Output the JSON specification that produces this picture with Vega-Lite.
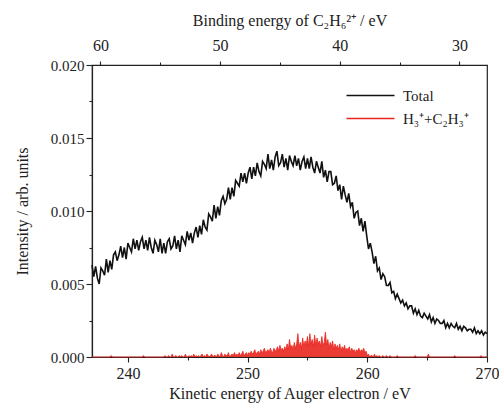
{
  "$schema": "https://vega.github.io/schema/vega-lite/v6.json",
  "width": 395,
  "height": 292,
  "autosize": {"type": "none"},
  "padding": {"left": 92, "top": 65, "right": 12, "bottom": 48},
  "background": "white",
  "config": {
    "font": "Liberation Serif",
    "view": {"stroke": "#222", "strokeWidth": 1.2},
    "axis": {
      "grid": false,
      "domainColor": "#222",
      "domainWidth": 1.2,
      "tickColor": "#222",
      "tickWidth": 1.1,
      "labelColor": "#222",
      "titleColor": "#222",
      "labelFont": "Liberation Serif",
      "titleFont": "Liberation Serif",
      "labelFontSize": 16,
      "titleFontSize": 16,
      "titleFontWeight": "normal"
    },
    "legend": {
      "labelFont": "Liberation Serif",
      "labelFontSize": 15,
      "labelColor": "#222"
    }
  },
  "datasets": {
    "total": [
      {"ke": 237, "i": 0.0063}, {"ke": 237.15, "i": 0.0055}, {"ke": 237.3, "i": 0.0062}, {"ke": 237.45, "i": 0.0054}, {"ke": 237.6, "i": 0.005}, {"ke": 237.75, "i": 0.0061}, {"ke": 237.9, "i": 0.0059}, {"ke": 238.05, "i": 0.0056}, {"ke": 238.2, "i": 0.0067}, {"ke": 238.35, "i": 0.0058},
      {"ke": 238.5, "i": 0.0066}, {"ke": 238.65, "i": 0.006}, {"ke": 238.8, "i": 0.007}, {"ke": 238.95, "i": 0.0072}, {"ke": 239.1, "i": 0.0066}, {"ke": 239.25, "i": 0.007}, {"ke": 239.4, "i": 0.0076}, {"ke": 239.55, "i": 0.0068}, {"ke": 239.7, "i": 0.0075}, {"ke": 239.85, "i": 0.0067},
      {"ke": 240, "i": 0.0078}, {"ke": 240.15, "i": 0.0075}, {"ke": 240.3, "i": 0.0072}, {"ke": 240.45, "i": 0.0081}, {"ke": 240.6, "i": 0.0074}, {"ke": 240.75, "i": 0.008}, {"ke": 240.9, "i": 0.0073}, {"ke": 241.05, "i": 0.0079}, {"ke": 241.2, "i": 0.0082}, {"ke": 241.35, "i": 0.0074},
      {"ke": 241.5, "i": 0.008}, {"ke": 241.65, "i": 0.0073}, {"ke": 241.8, "i": 0.0082}, {"ke": 241.95, "i": 0.0075}, {"ke": 242.1, "i": 0.0071}, {"ke": 242.25, "i": 0.008}, {"ke": 242.4, "i": 0.0077}, {"ke": 242.55, "i": 0.0072}, {"ke": 242.7, "i": 0.0081}, {"ke": 242.85, "i": 0.0071},
      {"ke": 243, "i": 0.0078}, {"ke": 243.15, "i": 0.0071}, {"ke": 243.3, "i": 0.0079}, {"ke": 243.45, "i": 0.0081}, {"ke": 243.6, "i": 0.0074}, {"ke": 243.75, "i": 0.0076}, {"ke": 243.9, "i": 0.0083}, {"ke": 244.05, "i": 0.0074}, {"ke": 244.2, "i": 0.008}, {"ke": 244.35, "i": 0.0072},
      {"ke": 244.5, "i": 0.0083}, {"ke": 244.65, "i": 0.008}, {"ke": 244.8, "i": 0.0077}, {"ke": 244.95, "i": 0.0086}, {"ke": 245.1, "i": 0.008}, {"ke": 245.25, "i": 0.0085}, {"ke": 245.4, "i": 0.0078}, {"ke": 245.55, "i": 0.0085}, {"ke": 245.7, "i": 0.0089}, {"ke": 245.85, "i": 0.0082},
      {"ke": 246, "i": 0.009}, {"ke": 246.15, "i": 0.0084}, {"ke": 246.3, "i": 0.0094}, {"ke": 246.45, "i": 0.0089}, {"ke": 246.6, "i": 0.0087}, {"ke": 246.75, "i": 0.0098}, {"ke": 246.9, "i": 0.0096}, {"ke": 247.05, "i": 0.0093}, {"ke": 247.2, "i": 0.0104}, {"ke": 247.35, "i": 0.0095},
      {"ke": 247.5, "i": 0.0103}, {"ke": 247.65, "i": 0.0097}, {"ke": 247.8, "i": 0.0107}, {"ke": 247.95, "i": 0.011}, {"ke": 248.1, "i": 0.0105}, {"ke": 248.25, "i": 0.0108}, {"ke": 248.4, "i": 0.0116}, {"ke": 248.55, "i": 0.0108}, {"ke": 248.7, "i": 0.0116}, {"ke": 248.85, "i": 0.011},
      {"ke": 249, "i": 0.0121}, {"ke": 249.15, "i": 0.0119}, {"ke": 249.3, "i": 0.0117}, {"ke": 249.45, "i": 0.0126}, {"ke": 249.6, "i": 0.012}, {"ke": 249.75, "i": 0.0126}, {"ke": 249.9, "i": 0.0119}, {"ke": 250.05, "i": 0.0126}, {"ke": 250.2, "i": 0.013}, {"ke": 250.35, "i": 0.0122},
      {"ke": 250.5, "i": 0.013}, {"ke": 250.65, "i": 0.0124}, {"ke": 250.8, "i": 0.0133}, {"ke": 250.95, "i": 0.0127}, {"ke": 251.1, "i": 0.0124}, {"ke": 251.25, "i": 0.0134}, {"ke": 251.4, "i": 0.0132}, {"ke": 251.55, "i": 0.0129}, {"ke": 251.7, "i": 0.0139}, {"ke": 251.85, "i": 0.0129},
      {"ke": 252, "i": 0.0135}, {"ke": 252.15, "i": 0.0128}, {"ke": 252.3, "i": 0.0137}, {"ke": 252.45, "i": 0.0141}, {"ke": 252.6, "i": 0.0131}, {"ke": 252.75, "i": 0.0133}, {"ke": 252.9, "i": 0.0139}, {"ke": 253.05, "i": 0.013}, {"ke": 253.2, "i": 0.0136}, {"ke": 253.35, "i": 0.0128},
      {"ke": 253.5, "i": 0.0138}, {"ke": 253.65, "i": 0.0134}, {"ke": 253.8, "i": 0.0131}, {"ke": 253.95, "i": 0.0138}, {"ke": 254.1, "i": 0.0131}, {"ke": 254.25, "i": 0.0136}, {"ke": 254.4, "i": 0.0128}, {"ke": 254.55, "i": 0.0134}, {"ke": 254.7, "i": 0.0137}, {"ke": 254.85, "i": 0.0129},
      {"ke": 255, "i": 0.0136}, {"ke": 255.15, "i": 0.0129}, {"ke": 255.3, "i": 0.0137}, {"ke": 255.45, "i": 0.013}, {"ke": 255.6, "i": 0.0126}, {"ke": 255.75, "i": 0.0134}, {"ke": 255.9, "i": 0.013}, {"ke": 256.05, "i": 0.0126}, {"ke": 256.2, "i": 0.0134}, {"ke": 256.35, "i": 0.0123},
      {"ke": 256.5, "i": 0.0128}, {"ke": 256.65, "i": 0.012}, {"ke": 256.8, "i": 0.0127}, {"ke": 256.95, "i": 0.0127}, {"ke": 257.1, "i": 0.0118}, {"ke": 257.25, "i": 0.0119}, {"ke": 257.4, "i": 0.0124}, {"ke": 257.55, "i": 0.0114}, {"ke": 257.7, "i": 0.0118}, {"ke": 257.85, "i": 0.0108},
      {"ke": 258, "i": 0.0117}, {"ke": 258.15, "i": 0.0111}, {"ke": 258.3, "i": 0.0106}, {"ke": 258.45, "i": 0.0112}, {"ke": 258.6, "i": 0.0103}, {"ke": 258.75, "i": 0.0106}, {"ke": 258.9, "i": 0.0095}, {"ke": 259.05, "i": 0.0099}, {"ke": 259.2, "i": 0.01}, {"ke": 259.35, "i": 0.009},
      {"ke": 259.5, "i": 0.0095}, {"ke": 259.65, "i": 0.0086}, {"ke": 259.8, "i": 0.0093}, {"ke": 259.95, "i": 0.0083}, {"ke": 260.1, "i": 0.0074}, {"ke": 260.25, "i": 0.0078}, {"ke": 260.4, "i": 0.0072}, {"ke": 260.55, "i": 0.0064}, {"ke": 260.7, "i": 0.0069}, {"ke": 260.85, "i": 0.0059},
      {"ke": 261, "i": 0.0061}, {"ke": 261.15, "i": 0.0053}, {"ke": 261.3, "i": 0.0057}, {"ke": 261.45, "i": 0.0055}, {"ke": 261.6, "i": 0.0049}, {"ke": 261.75, "i": 0.0049}, {"ke": 261.9, "i": 0.0051}, {"ke": 262.05, "i": 0.0044}, {"ke": 262.2, "i": 0.0045}, {"ke": 262.35, "i": 0.004},
      {"ke": 262.5, "i": 0.0043}, {"ke": 262.65, "i": 0.004}, {"ke": 262.8, "i": 0.0037}, {"ke": 262.95, "i": 0.0039}, {"ke": 263.1, "i": 0.0035}, {"ke": 263.25, "i": 0.0037}, {"ke": 263.4, "i": 0.0033}, {"ke": 263.55, "i": 0.0035}, {"ke": 263.7, "i": 0.0035}, {"ke": 263.85, "i": 0.003},
      {"ke": 264, "i": 0.0033}, {"ke": 264.15, "i": 0.0029}, {"ke": 264.3, "i": 0.0032}, {"ke": 264.45, "i": 0.0028}, {"ke": 264.6, "i": 0.0027}, {"ke": 264.75, "i": 0.003}, {"ke": 264.9, "i": 0.0028}, {"ke": 265.05, "i": 0.0026}, {"ke": 265.2, "i": 0.0029}, {"ke": 265.35, "i": 0.0024},
      {"ke": 265.5, "i": 0.0027}, {"ke": 265.65, "i": 0.0023}, {"ke": 265.8, "i": 0.0026}, {"ke": 265.95, "i": 0.0025}, {"ke": 266.1, "i": 0.0023}, {"ke": 266.25, "i": 0.0023}, {"ke": 266.4, "i": 0.0025}, {"ke": 266.55, "i": 0.002}, {"ke": 266.7, "i": 0.0023}, {"ke": 266.85, "i": 0.002},
      {"ke": 267, "i": 0.0023}, {"ke": 267.15, "i": 0.0021}, {"ke": 267.3, "i": 0.002}, {"ke": 267.45, "i": 0.0023}, {"ke": 267.6, "i": 0.0019}, {"ke": 267.75, "i": 0.0021}, {"ke": 267.9, "i": 0.0018}, {"ke": 268.05, "i": 0.0021}, {"ke": 268.2, "i": 0.002}, {"ke": 268.35, "i": 0.0018},
      {"ke": 268.5, "i": 0.0019}, {"ke": 268.65, "i": 0.0019}, {"ke": 268.8, "i": 0.0017}, {"ke": 268.95, "i": 0.002}, {"ke": 269.1, "i": 0.0016}, {"ke": 269.25, "i": 0.0018}, {"ke": 269.4, "i": 0.0016}, {"ke": 269.55, "i": 0.0018}, {"ke": 269.7, "i": 0.0015}, {"ke": 269.85, "i": 0.0017},
      {"ke": 270, "i": 0.0016}
    ],
    "ions": [
      {"ke": 237, "i": 0}, {"ke": 238.5, "i": 0}, {"ke": 238.6, "i": 0.0001}, {"ke": 238.7, "i": 0}, {"ke": 241.2, "i": 0}, {"ke": 241.3, "i": 0.0001}, {"ke": 241.4, "i": 0},
      {"ke": 243, "i": 0}, {"ke": 243.1, "i": 0.0001}, {"ke": 243.2, "i": 0}, {"ke": 243.3, "i": 0}, {"ke": 243.4, "i": 0.0001}, {"ke": 243.5, "i": 0}, {"ke": 243.6, "i": 0}, {"ke": 243.7, "i": 0.0002}, {"ke": 243.8, "i": 0}, {"ke": 243.9, "i": 0},
      {"ke": 244, "i": 0.0001}, {"ke": 244.1, "i": 0}, {"ke": 244.2, "i": 0}, {"ke": 244.3, "i": 0.0001}, {"ke": 244.4, "i": 0}, {"ke": 244.5, "i": 0.0001}, {"ke": 244.6, "i": 0}, {"ke": 244.7, "i": 0}, {"ke": 244.8, "i": 0.0002}, {"ke": 244.9, "i": 0},
      {"ke": 245, "i": 0}, {"ke": 245.1, "i": 0.0001}, {"ke": 245.2, "i": 0}, {"ke": 245.3, "i": 0.0001}, {"ke": 245.4, "i": 0}, {"ke": 245.5, "i": 0.0002}, {"ke": 245.6, "i": 0}, {"ke": 245.7, "i": 0.0001}, {"ke": 245.8, "i": 0}, {"ke": 245.9, "i": 0.0001},
      {"ke": 246, "i": 0}, {"ke": 246.1, "i": 0.0001}, {"ke": 246.2, "i": 0.0002}, {"ke": 246.3, "i": 0}, {"ke": 246.4, "i": 0.0001}, {"ke": 246.5, "i": 0}, {"ke": 246.6, "i": 0.0002}, {"ke": 246.7, "i": 0.0001}, {"ke": 246.8, "i": 0}, {"ke": 246.9, "i": 0.0001},
      {"ke": 247, "i": 0.0002}, {"ke": 247.1, "i": 0}, {"ke": 247.2, "i": 0.0001}, {"ke": 247.3, "i": 0.0001}, {"ke": 247.4, "i": 0}, {"ke": 247.5, "i": 0.0002}, {"ke": 247.6, "i": 0.0001}, {"ke": 247.7, "i": 0}, {"ke": 247.8, "i": 0.0003}, {"ke": 247.9, "i": 0.0001},
      {"ke": 248, "i": 0}, {"ke": 248.1, "i": 0.0002}, {"ke": 248.2, "i": 0.0001}, {"ke": 248.3, "i": 0.0001}, {"ke": 248.4, "i": 0.0003}, {"ke": 248.5, "i": 0}, {"ke": 248.6, "i": 0.0001}, {"ke": 248.7, "i": 0.0002}, {"ke": 248.8, "i": 0.0001}, {"ke": 248.9, "i": 0.0003},
      {"ke": 249, "i": 0.0001}, {"ke": 249.1, "i": 0.0002}, {"ke": 249.2, "i": 0.0001}, {"ke": 249.3, "i": 0.0003}, {"ke": 249.4, "i": 0.0001}, {"ke": 249.5, "i": 0.0002}, {"ke": 249.6, "i": 0.0004}, {"ke": 249.7, "i": 0.0001}, {"ke": 249.8, "i": 0.0002}, {"ke": 249.9, "i": 0.0003},
      {"ke": 250, "i": 0.0001}, {"ke": 250.1, "i": 0.0003}, {"ke": 250.2, "i": 0.0002}, {"ke": 250.3, "i": 0.0004}, {"ke": 250.4, "i": 0.0002}, {"ke": 250.5, "i": 0.0003}, {"ke": 250.6, "i": 0.0005}, {"ke": 250.7, "i": 0.0002}, {"ke": 250.8, "i": 0.0003}, {"ke": 250.9, "i": 0.0004},
      {"ke": 251, "i": 0.0002}, {"ke": 251.1, "i": 0.0005}, {"ke": 251.2, "i": 0.0003}, {"ke": 251.3, "i": 0.0004}, {"ke": 251.4, "i": 0.0006}, {"ke": 251.5, "i": 0.0003}, {"ke": 251.6, "i": 0.0004}, {"ke": 251.7, "i": 0.0005}, {"ke": 251.8, "i": 0.0003}, {"ke": 251.9, "i": 0.0006},
      {"ke": 252, "i": 0.0004}, {"ke": 252.1, "i": 0.0003}, {"ke": 252.2, "i": 0.0006}, {"ke": 252.3, "i": 0.0004}, {"ke": 252.4, "i": 0.0005}, {"ke": 252.5, "i": 0.0007}, {"ke": 252.6, "i": 0.0004}, {"ke": 252.7, "i": 0.0008}, {"ke": 252.8, "i": 0.0005}, {"ke": 252.9, "i": 0.0006},
      {"ke": 253, "i": 0.0004}, {"ke": 253.1, "i": 0.0007}, {"ke": 253.2, "i": 0.0005}, {"ke": 253.3, "i": 0.0009}, {"ke": 253.4, "i": 0.0005}, {"ke": 253.5, "i": 0.0012}, {"ke": 253.6, "i": 0.0006}, {"ke": 253.7, "i": 0.0008}, {"ke": 253.8, "i": 0.0005}, {"ke": 253.9, "i": 0.001},
      {"ke": 254, "i": 0.0006}, {"ke": 254.1, "i": 0.0009}, {"ke": 254.2, "i": 0.0016}, {"ke": 254.3, "i": 0.0007}, {"ke": 254.4, "i": 0.001}, {"ke": 254.5, "i": 0.0006}, {"ke": 254.6, "i": 0.0013}, {"ke": 254.7, "i": 0.0007}, {"ke": 254.8, "i": 0.0011}, {"ke": 254.9, "i": 0.0008},
      {"ke": 255, "i": 0.0014}, {"ke": 255.1, "i": 0.0007}, {"ke": 255.2, "i": 0.0016}, {"ke": 255.3, "i": 0.0009}, {"ke": 255.4, "i": 0.0012}, {"ke": 255.5, "i": 0.0007}, {"ke": 255.6, "i": 0.0015}, {"ke": 255.7, "i": 0.0008}, {"ke": 255.8, "i": 0.0013}, {"ke": 255.9, "i": 0.0009},
      {"ke": 256, "i": 0.0011}, {"ke": 256.1, "i": 0.0007}, {"ke": 256.2, "i": 0.0014}, {"ke": 256.3, "i": 0.0008}, {"ke": 256.4, "i": 0.001}, {"ke": 256.5, "i": 0.0017}, {"ke": 256.6, "i": 0.0008}, {"ke": 256.7, "i": 0.0012}, {"ke": 256.8, "i": 0.0006}, {"ke": 256.9, "i": 0.001},
      {"ke": 257, "i": 0.0007}, {"ke": 257.1, "i": 0.0011}, {"ke": 257.2, "i": 0.0005}, {"ke": 257.3, "i": 0.0009}, {"ke": 257.4, "i": 0.0006}, {"ke": 257.5, "i": 0.0008}, {"ke": 257.6, "i": 0.0005}, {"ke": 257.7, "i": 0.0009}, {"ke": 257.8, "i": 0.0004}, {"ke": 257.9, "i": 0.0007},
      {"ke": 258, "i": 0.0005}, {"ke": 258.1, "i": 0.0008}, {"ke": 258.2, "i": 0.0004}, {"ke": 258.3, "i": 0.0006}, {"ke": 258.4, "i": 0.0005}, {"ke": 258.5, "i": 0.0007}, {"ke": 258.6, "i": 0.0003}, {"ke": 258.7, "i": 0.0006}, {"ke": 258.8, "i": 0.0004}, {"ke": 258.9, "i": 0.0005},
      {"ke": 259, "i": 0.0003}, {"ke": 259.1, "i": 0.0005}, {"ke": 259.2, "i": 0.0004}, {"ke": 259.3, "i": 0.0006}, {"ke": 259.4, "i": 0.0003}, {"ke": 259.5, "i": 0.0005}, {"ke": 259.6, "i": 0.0004}, {"ke": 259.7, "i": 0.0006}, {"ke": 259.8, "i": 0.0003}, {"ke": 259.9, "i": 0.0004},
      {"ke": 260, "i": 0.0001}, {"ke": 260.1, "i": 0.0002}, {"ke": 260.2, "i": 0}, {"ke": 260.3, "i": 0.0001}, {"ke": 260.4, "i": 0.0001}, {"ke": 260.5, "i": 0}, {"ke": 260.6, "i": 0.0002}, {"ke": 260.7, "i": 0}, {"ke": 260.8, "i": 0.0001}, {"ke": 260.9, "i": 0},
      {"ke": 261, "i": 0.0001}, {"ke": 261.1, "i": 0}, {"ke": 261.2, "i": 0}, {"ke": 261.3, "i": 0.0001}, {"ke": 261.4, "i": 0}, {"ke": 261.5, "i": 0}, {"ke": 261.6, "i": 0.0001}, {"ke": 261.7, "i": 0}, {"ke": 261.8, "i": 0}, {"ke": 261.9, "i": 0.0001},
      {"ke": 262, "i": 0}, {"ke": 262.4, "i": 0}, {"ke": 262.5, "i": 0.0001}, {"ke": 262.6, "i": 0}, {"ke": 263.9, "i": 0}, {"ke": 264, "i": 0.0001}, {"ke": 264.1, "i": 0}, {"ke": 265, "i": 0}, {"ke": 265.1, "i": 0.0002}, {"ke": 265.2, "i": 0},
      {"ke": 267.2, "i": 0}, {"ke": 267.3, "i": 0.0001}, {"ke": 267.4, "i": 0}, {"ke": 269.4, "i": 0}, {"ke": 269.5, "i": 0.0001}, {"ke": 269.6, "i": 0}, {"ke": 270, "i": 0}
    ],
    "binding": [{"be": 30}, {"be": 60}]
  },
  "layer": [
    {
      "encoding": {
        "x": {
          "field": "ke",
          "type": "quantitative",
          "scale": {"domain": [237, 270], "nice": false, "zero": false},
          "axis": {
            "orient": "bottom",
            "title": "Kinetic energy of Auger electron / eV",
            "values": [240, 245, 250, 255, 260, 265, 270],
            "labelExpr": "datum.value % 10 === 0 ? datum.label : ''",
            "tickSize": {"condition": {"test": "datum.value % 10 !== 0", "value": 3}, "value": 5},
            "labelPadding": 3,
            "titlePadding": 4,
            "labelFlush": false
          }
        },
        "y": {
          "field": "i",
          "type": "quantitative",
          "scale": {"domain": [0, 0.02], "nice": false},
          "axis": {
            "title": "Intensity / arb. units",
            "titleFontSize": 16,
            "values": [0, 0.0025, 0.005, 0.0075, 0.01, 0.0125, 0.015, 0.0175, 0.02],
            "labelExpr": "abs(datum.value * 200 - round(datum.value * 200)) < 0.001 ? format(datum.value, '.3f') : ''",
            "tickSize": {"condition": {"test": "abs(datum.value * 200 - round(datum.value * 200)) > 0.001", "value": 3}, "value": 6},
            "labelPadding": 2,
            "titlePadding": 20,
            "labelFontSize": 15,
            "labelFlush": false
          }
        }
      },
      "layer": [
        {
          "data": {"name": "ions"},
          "mark": {"type": "area", "color": "#e8261f", "opacity": 0.9, "interpolate": "linear"}
        },
        {
          "data": {"name": "ions"},
          "mark": {"type": "line", "strokeWidth": 0.8},
          "encoding": {"color": {"datum": "H₃⁺+C₂H₃⁺"}}
        },
        {
          "data": {"name": "total"},
          "mark": {"type": "line", "strokeWidth": 1.6},
          "encoding": {
            "color": {
              "datum": "Total",
              "scale": {"domain": ["Total", "H₃⁺+C₂H₃⁺"], "range": ["#111111", "#e8261f"]},
              "legend": {
                "title": null,
                "orient": "none",
                "legendX": 271,
                "legendY": 23,
                "symbolType": "M-4,0H4",
                "symbolSize": 144,
                "symbolStrokeWidth": 1.3,
                "labelOffset": 25,
                "rowPadding": 7
              }
            }
          }
        }
      ]
    },
    {
      "data": {"name": "binding"},
      "mark": {"type": "point", "opacity": 0},
      "encoding": {
        "x": {
          "field": "be",
          "type": "quantitative",
          "scale": {"domain": [27.7, 60.7], "reverse": true, "nice": false, "zero": false},
          "axis": {
            "orient": "top",
            "title": "Binding energy of C₂H₆²⁺ / eV",
            "values": [30, 35, 40, 45, 50, 55, 60],
            "labelExpr": "datum.value % 10 === 0 ? datum.label : ''",
            "tickSize": {"condition": {"test": "datum.value % 10 !== 0", "value": 3}, "value": 4},
            "labelPadding": 8,
            "titlePadding": 9,
            "labelFlush": false
          }
        }
      }
    }
  ],
  "resolve": {"scale": {"x": "independent"}, "axis": {"x": "independent"}}
}
